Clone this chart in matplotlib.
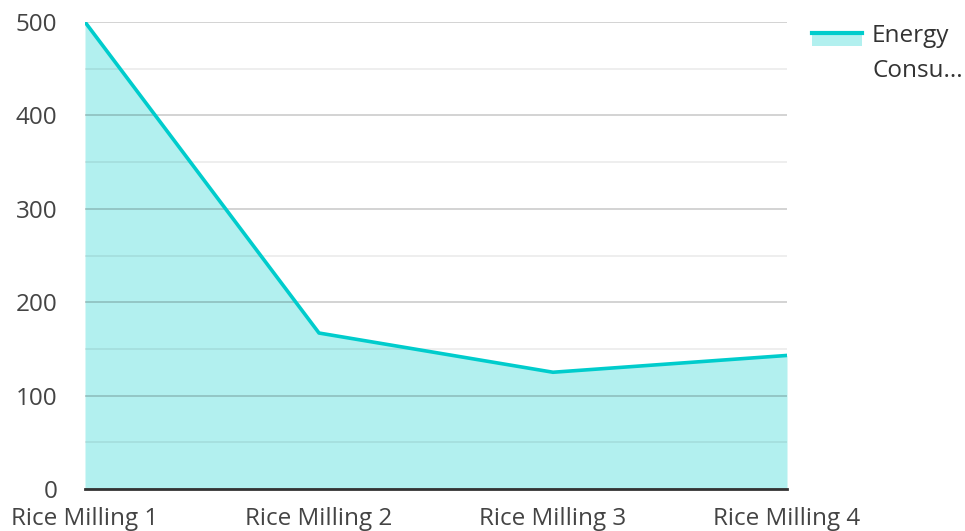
import matplotlib
matplotlib.use("Agg")
import matplotlib.pyplot as plt
from matplotlib.patches import Rectangle
from matplotlib.lines import Line2D

categories = ["Rice Milling 1", "Rice Milling 2", "Rice Milling 3", "Rice Milling 4"]
energy = [500, 167, 125, 143]
series_name = "Energy Consumption"

line_color = "#00cccc"
fill_color = "#b2f0ef"

plt.rcParams["font.family"] = ["Open Sans", "DejaVu Sans"]

W, H = 965, 531
fig = plt.figure(figsize=(W / 100, H / 100), dpi=100)
ax = fig.add_axes([85 / W, 1 - 489 / H, (787 - 85) / W, (489 - 22) / H])

x = list(range(len(categories)))
ax.fill_between(x, energy, 0, color=fill_color, linewidth=0, zorder=2)
ax.plot(x, energy, color=line_color, linewidth=2.6, zorder=3)

ax.set_xlim(0, len(categories) - 1)
ax.set_ylim(0, 500)
ax.set_yticks(range(0, 501, 100))
ax.set_yticks(range(50, 500, 100), minor=True)
ax.set_xticks(x)
ax.set_xticklabels(categories)

ax.grid(axis="y", which="major", color="#000000", alpha=0.2, linewidth=1.2, zorder=2.5)
ax.grid(axis="y", which="minor", color="#000000", alpha=0.08, linewidth=1.2, zorder=2.5)
ax.set_axisbelow(False)

for side in ("top", "right", "left"):
    ax.spines[side].set_visible(False)
ax.spines["bottom"].set_color("#333333")
ax.spines["bottom"].set_linewidth(2)
ax.spines["bottom"].set_zorder(4)

ax.tick_params(axis="both", which="both", length=0, labelsize=17.5, colors="#444444")
ax.tick_params(axis="y", pad=20)
ax.tick_params(axis="x", pad=13)

# legend drawn by hand (text is truncated in the reference)
fig.patches.append(Rectangle((812 / W, 1 - 46 / H), 50 / W, 14 / H,
                             transform=fig.transFigure, color=fill_color, linewidth=0))
fig.lines.append(Line2D([812 / W, 862 / W], [1 - 33 / H, 1 - 33 / H],
                        transform=fig.transFigure, color=line_color, linewidth=3))
fig.text(872 / W, 1 - 36 / H, "Energy", fontsize=17.5, color="#333333", va="center", ha="left")
fig.text(872 / W, 1 - 71 / H, "Consu...", fontsize=17.5, color="#333333", va="center", ha="left")

fig.savefig("out.png", dpi=100)
